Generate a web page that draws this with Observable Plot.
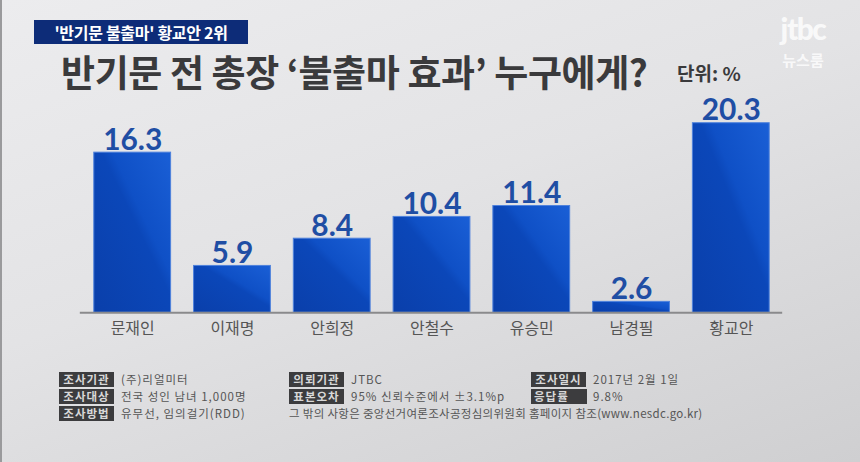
<!DOCTYPE html>
<html>
<head>
<meta charset="utf-8">
<script src="https://cdn.jsdelivr.net/npm/d3@7"></script>
<script src="https://cdn.jsdelivr.net/npm/@observablehq/plot@0.6"></script>
<style>
  html, body { margin: 0; padding: 0; }
  body { width: 860px; height: 462px; overflow: hidden; }
  #wrap {
    position: relative; width: 860px; height: 462px; overflow: hidden;
    background: linear-gradient(160deg, #ececee 0%, #e3e3e5 45%, #cfcfd1 100%);
    font-family: "Noto Sans CJK KR", "Noto Sans", sans-serif;
    border-left: 2px solid #9a9a9c; box-sizing: border-box;
  }
  #wrap svg { position: absolute; left: -2px; top: 0; }
  .tag {
    position: absolute; left: 32px; top: 20px; width: 214px; height: 24px;
    background: #0d2c78; color: #fff; font-weight: 700; font-size: 16px;
    line-height: 24px; text-align: center; letter-spacing: -0.3px;
  }
  .title {
    position: absolute; left: 59px; top: 46px; font-size: 37px; font-weight: 700;
    color: #3a3a3c; letter-spacing: -0.4px; white-space: nowrap; line-height: 50px;
  }
  .unit {
    position: absolute; left: 675px; top: 60px; font-size: 19px; font-weight: 700;
    color: #3a3a3c; white-space: nowrap; line-height: 26px;
  }
  .logo-a { position: absolute; left: 774px; top: 12px; width: 54px; text-align: center;
    color: rgba(255,255,255,0.8); font-family: "Lato", sans-serif; font-weight: 900;
    font-size: 30px; line-height: 32px; letter-spacing: -1.5px; }
  .logo-b { position: absolute; left: 774px; top: 49px; width: 54px; text-align: center;
    color: rgba(255,255,255,0.8); font-size: 15px; font-weight: 700; line-height: 21px; }
  .foot { position: absolute; font-size: 11.5px; color: #555; white-space: nowrap; line-height: 15px; letter-spacing: 1px; }
  .badge { position: absolute; width: 55px; height: 15px; background: #3c3c3e; color: #d8d8d8;
    font-size: 11.5px; font-weight: 700; line-height: 15px; text-align: center; letter-spacing: 1px; }
</style>
</head>
<body>
<div id="wrap">
  <div class="tag">'반기문 불출마' 황교안 2위</div>
  <div class="title">반기문 전 총장 ‘불출마 효과’ 누구에게?</div>
  <div class="unit">단위: %</div>
  <div class="logo-a">jtbc</div>
  <div class="logo-b">뉴스룸</div>
  <div id="chart"></div>
  <div id="footer"></div>
</div>
<script>
const names = ["문재인", "이재명", "안희정", "안철수", "유승민", "남경필", "황교안"];
const values = [16.3, 5.9, 8.4, 10.4, 11.4, 2.6, 20.3];

const footLabels = ["조사기관", "조사대상", "조사방법", "의뢰기관", "표본오차", "조사일시", "응답률"];
const footTexts = ["(주)리얼미터", "전국 성인 남녀 1,000명", "유무선, 임의걸기(RDD)", "JTBC", "95% 신뢰수준에서 ±3.1%p", "2017년 2월 1일", "9.8%"];
const footNote = "그 밖의 사항은 중앙선거여론조사공정심의위원회 홈페이지 참조(www.nesdc.go.kr)";

const data = names.map((name, i) => ({name, value: values[i]}));

// The original graphic compresses the tallest bar: piecewise linear value scale.
const plot = Plot.plot({
  width: 860,
  height: 462,
  marginTop: 108,
  marginBottom: 149,
  marginLeft: 80,
  marginRight: 76,
  style: {background: "transparent", overflow: "visible"},
  x: {domain: names, paddingInner: 0.23, paddingOuter: 0.115, axis: null},
  y: {type: "linear", domain: [1.6, 16.3, 20.3], range: [313, 152.5, 123], clamp: true, axis: null},
  marks: [
    Plot.barY(data, {x: "name", y: "value", fill: "url(#barGrad)", stroke: "#4f82dc", strokeWidth: 1}),
    Plot.ruleY([0], {stroke: "#8a8a8c", strokeWidth: 2}),
    Plot.text(data, {x: "name", y: "value", text: d => d.value.toFixed(1), dy: -3, lineAnchor: "bottom",
      fontSize: 30, fontWeight: 700, fill: "#1f4ea4", fontFamily: "Lato, sans-serif"}),
    Plot.axisX({tickSize: 0, tickPadding: 10, fontSize: 16, label: null, color: "#555",
      fontFamily: "Noto Sans CJK KR, sans-serif"})
  ]
});

const ns = "http://www.w3.org/2000/svg";
const defs = document.createElementNS(ns, "defs");
defs.innerHTML = `<linearGradient id="barGrad" x1="0" y1="1" x2="1" y2="0">
  <stop offset="0%" stop-color="#0a3faa"/>
  <stop offset="55%" stop-color="#0b47b9"/>
  <stop offset="62%" stop-color="#0f50c6"/>
  <stop offset="100%" stop-color="#1a5fd6"/>
</linearGradient>`;
plot.insertBefore(defs, plot.firstChild);
document.getElementById("chart").appendChild(plot);

// footer
const footer = document.getElementById("footer");
const cols = [57, 287, 529];
const rows = [372, 389, 406];
const slots = [[0,0],[0,1],[0,2],[1,0],[1,1],[2,0],[2,1]];
slots.forEach(([c, r], i) => {
  const b = document.createElement("div");
  b.className = "badge";
  b.style.left = cols[c] + "px";
  b.style.top = rows[r] + "px";
  b.textContent = footLabels[i];
  if (footLabels[i].length === 3) { b.style.textAlign = "left"; b.style.paddingLeft = "3px"; b.style.width = "53px"; }
  footer.appendChild(b);
  const t = document.createElement("div");
  t.className = "foot";
  t.style.left = (cols[c] + 62) + "px";
  t.style.top = rows[r] + "px";
  t.textContent = footTexts[i];
  footer.appendChild(t);
});
const n = document.createElement("div");
n.className = "foot";
n.style.left = "287px";
n.style.top = "406px";
n.style.letterSpacing = "0.3px";
n.textContent = footNote;
footer.appendChild(n);
</script>
</body>
</html>
